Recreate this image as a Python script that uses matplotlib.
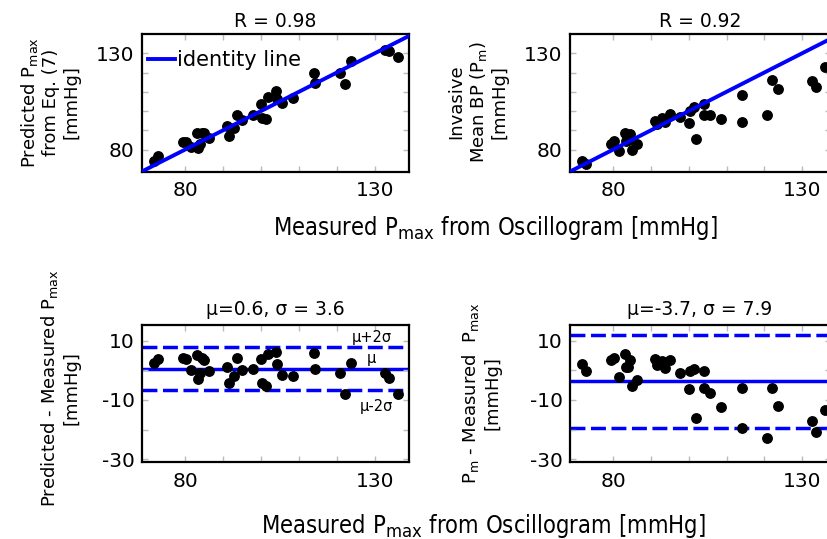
import numpy as np
import matplotlib
matplotlib.use("Agg")
import matplotlib.pyplot as plt

plt.rcParams['font.family'] = ['DejaVu Sans']
plt.rcParams['mathtext.fontset'] = 'dejavusans'

# measured Pmax from oscillogram (x), predicted Pmax (Eq. 7), invasive mean BP
measured = [71.7, 72.8, 79.4, 80.3, 81.5, 83.1, 83.5, 83.9, 84.5, 85.1, 86.2,
            91.0, 91.6, 93.0, 93.6, 95.1, 97.8, 100.0, 100.3, 101.4, 101.8,
            104.0, 104.1, 105.5, 108.5, 114.0, 114.1, 120.8, 122.1, 123.7,
            132.6, 133.7, 136.1]
predicted = [74.3, 76.6, 83.7, 84.1, 81.5, 88.5, 80.7, 83.1, 88.8, 88.6, 86.0,
             92.3, 87.2, 91.1, 97.9, 95.3, 98.2, 103.8, 96.2, 96.1, 107.5,
             110.3, 106.4, 104.0, 106.6, 120.0, 114.5, 120.0, 114.2, 126.1,
             131.8, 131.0, 128.2]
invasive = [73.9, 72.7, 83.0, 84.5, 79.3, 88.7, 84.6, 85.0, 88.1, 80.0, 83.0,
            95.0, 93.5, 96.3, 94.4, 98.7, 97.1, 93.7, 100.0, 101.9, 85.7,
            103.7, 98.1, 97.8, 96.0, 94.5, 108.1, 97.9, 116.1, 111.5,
            115.5, 112.7, 122.8]

r_values = [0.98, 0.92]
stats = [(0.6, 3.6), (-3.7, 7.9)]

x_ticks = [80, 90, 100, 110, 120, 130]
x_labels = ['80', '', '', '', '', '130']
y_ticks_top = [80, 90, 100, 110, 120, 130]
y_ticks_bot = [10, 0, -10, -20, -30]
y_labels_bot = ['10', '', '-10', '', '-30']

blue = '#0000ff'

W, H = 828, 539
fig = plt.figure(figsize=(W / 100, H / 100), dpi=100)


def px_axes(left, top, right, bottom):
    return fig.add_axes([left / W, 1 - bottom / H, (right - left) / W, (bottom - top) / H])


def style(ax):
    for s in ax.spines.values():
        s.set_linewidth(1.6)
    ax.tick_params(direction='in', length=4, width=1, color='#bbbbbb',
                   top=True, right=True, labelsize=14.5, labelcolor='black')
    ax.tick_params(axis='x', pad=7)
    ax.tick_params(axis='y', pad=5)
    ax.set_xticks(x_ticks)
    ax.set_xticklabels(x_labels)


ax_tl = px_axes(141.5, 34, 409, 171.7)
ax_tr = px_axes(569.7, 34, 830.5, 171.7)
ax_bl = px_axes(141.5, 324.7, 409, 462)
ax_br = px_axes(569.7, 324.7, 830.5, 462)

meas = np.array(measured)
diffs = [np.array(predicted) - meas, np.array(invasive) - meas]
xlims = [(68.5, 139), (68.5, 137.5)]

for i, (ax, yvals) in enumerate([(ax_tl, predicted), (ax_tr, invasive)]):
    ax.plot([60, 150], [60, 150], color=blue, lw=2.8, label='identity line', zorder=3)
    ax.plot(measured, yvals, 'o', color='black', ms=6.8, zorder=2)
    ax.set_xlim(*xlims[i])
    ax.set_ylim(68.5, 140)
    style(ax)
    ax.set_yticks(y_ticks_top)
    ax.set_yticklabels(['80', '', '', '', '', '130'])
    ax.set_title('R = %.2f' % r_values[i], fontsize=13.5, pad=5)

ax_tl.legend(loc='upper left', bbox_to_anchor=(0.0, 0.93), frameon=False, fontsize=15,
             handlelength=1.3, handletextpad=0.1, borderaxespad=0.1, borderpad=0.2)

for i, ax in enumerate([ax_bl, ax_br]):
    mu, sd = stats[i]
    ax.axhline(mu, color=blue, lw=2.5, zorder=1)
    ax.axhline(mu + 2 * sd, color=blue, lw=2.5, dashes=(4.3, 1.6), zorder=1)
    ax.axhline(mu - 2 * sd, color=blue, lw=2.5, dashes=(4.3, 1.6), zorder=1)
    ax.plot(measured, diffs[i], 'o', color='black', ms=6.8, zorder=2)
    ax.set_xlim(*xlims[i])
    ax.set_ylim(-31, 15.5)
    style(ax)
    ax.set_yticks(y_ticks_bot)
    ax.set_yticklabels(y_labels_bot)
    ax.set_title('\u03bc=%.1f, \u03c3 = %.1f' % (mu, sd), fontsize=13.5, pad=7)

mu, sd = stats[0]
ax_bl.text(129.2, mu + 2 * sd + 3.3, '\u03bc+2\u03c3', fontsize=10.5, ha='center', va='center')
ax_bl.text(129.2, mu + 3.5, '\u03bc', fontsize=10.5, ha='center', va='center')
ax_bl.text(130.3, mu - 2 * sd - 5.7, '\u03bc-2\u03c3', fontsize=10.5, ha='center', va='center')

# y labels
lab = dict(rotation=90, ha='center', va='center', multialignment='center', fontsize=13,
           linespacing=1.15)
fig.text(50 / W, 1 - 102 / H, 'Predicted P$_{\\mathrm{max}}$\nfrom Eq. (7)\n[mmHg]', **lab)
fig.text(478 / W, 1 - 102 / H, 'Invasive\nMean BP (P$_{\\mathrm{m}}$)\n[mmHg]', **lab)
fig.text(60 / W, 1 - 388 / H, 'Predicted - Measured P$_{\\mathrm{max}}$\n[mmHg]', **lab)
fig.text(481 / W, 1 - 393 / H, 'P$_{\\mathrm{m}}$ - Measured  P$_{\\mathrm{max}}$\n[mmHg]', **lab)

# shared x labels
xl = dict(ha='center', va='center', fontsize=17, fontstretch='condensed')
fig.text(495 / W, 1 - 228 / H, 'Measured P$_{\\mathrm{max}}$ from Oscillogram [mmHg]', **xl)
fig.text(483 / W, 1 - 526 / H, 'Measured P$_{\\mathrm{max}}$ from Oscillogram [mmHg]', **xl)

fig.savefig('out.png', dpi=100)
